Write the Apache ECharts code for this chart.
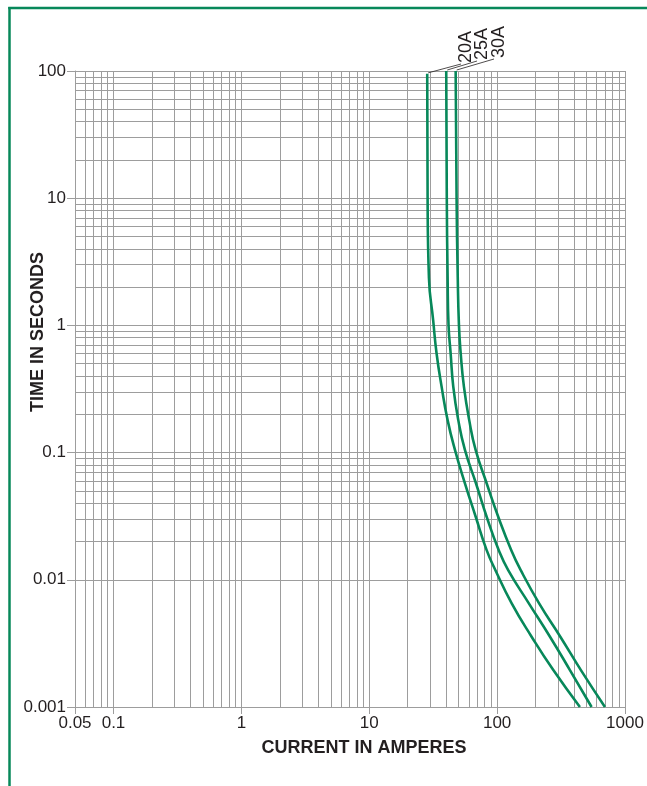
<!DOCTYPE html>
<html>
<head>
<meta charset="utf-8">
<script src="https://cdn.jsdelivr.net/npm/echarts@6/dist/echarts.min.js"></script>
<style>
html,body{margin:0;padding:0;background:#fff;}
#c{width:647px;height:786px;}
</style>
</head>
<body>
<div id="c"></div>
<script>
// ---- data ----
const seriesNames = ['20A', '25A', '30A'];
const amps20 = [28.4, 28.6, 29.3, 31.6, 33.6, 36.8, 41.0, 46.8, 56.0, 68.0, 82.8, 97, 130, 186, 275, 444];
const secs20 = [95, 10, 2.36, 1.10, 0.604, 0.330, 0.180, 0.105, 0.0574, 0.0313, 0.0171, 0.0119, 0.00653, 0.00357, 0.00195, 0.00100];
const amps25 = [40.0, 40.4, 41.0, 41.7, 43.3, 45.4, 49.7, 56.0, 68.3, 82.8, 103, 122, 177, 259, 371, 548];
const secs25 = [100, 10, 2.4, 1.0, 0.604, 0.330, 0.180, 0.105, 0.0574, 0.0313, 0.0171, 0.0119, 0.00653, 0.00357, 0.00195, 0.00100];
const amps30 = [47.4, 48.2, 49.2, 50.3, 51.9, 55.0, 60.5, 67.9, 82.8, 102, 129, 153, 213, 312, 452, 697];
const secs30 = [100, 10, 2.4, 1.0, 0.604, 0.330, 0.180, 0.105, 0.0574, 0.0313, 0.0171, 0.0119, 0.00653, 0.00357, 0.00195, 0.00100];

// ---- axes / tick labels ----
const xTitle = 'CURRENT IN AMPERES';
const yTitle = 'TIME IN SECONDS';
const xTickLabels = ['0.05', '0.1', '1', '10', '100', '1000'];
const yTickLabels = ['0.001', '0.01', '0.1', '1', '10', '100'];
const xMin = 0.05, xMax = 1000, yMin = 0.001, yMax = 100;
const gridMultipliers = [1, 2, 3, 4, 5, 6, 7, 8, 9];
const xDecades = [0.01, 0.1, 1, 10, 100, 1000];
const yDecades = [0.001, 0.01, 0.1, 1, 10, 100];

const GREEN = '#07885a';
const GRID = '#9d9d9d';
const TEXT = '#231f20';
const FONT = "'Liberation Sans', Arial, Helvetica, sans-serif";

function gridValues(decades, lo, hi) {
  const out = [];
  decades.forEach(d => gridMultipliers.forEach(m => {
    const v = +(d * m).toPrecision(6);
    if (v >= lo - 1e-12 && v <= hi + 1e-12 && out.indexOf(v) < 0) out.push(v);
  }));
  return out;
}
const xGrid = gridValues(xDecades, xMin, xMax);
const yGrid = gridValues(yDecades, yMin, yMax);

function zip(a, b) { return a.map((v, i) => [v, b[i]]); }
const curves = [zip(amps20, secs20), zip(amps25, secs25), zip(amps30, secs30)];

function fmt(v) { return String(+(+v).toPrecision(6)); }

const chart = echarts.init(document.getElementById('c'), null, { renderer: 'canvas' });

const gridLines = xGrid.map(v => ({ xAxis: v })).concat(yGrid.map(v => ({ yAxis: v })));

const option = {
  animation: false,
  backgroundColor: '#fff',
  grid: { left: 75, right: 22, top: 71, bottom: 79, containLabel: false, outerBoundsMode: 'none' },
  xAxis: {
    type: 'log', logBase: 10, min: xMin, max: xMax,
    axisLine: { show: true, lineStyle: { color: GRID, width: 1 } },
    axisTick: { show: true, length: 7, lineStyle: { color: GRID } },
    axisLabel: { fontFamily: FONT, fontSize: 17, color: TEXT, margin: 8, hideOverlap: false,
      formatter: v => { const s = fmt(v); return xTickLabels.indexOf(s) >= 0 ? s : ''; } },
    splitLine: { show: false }
  },
  yAxis: {
    type: 'log', logBase: 10, min: yMin, max: yMax,
    axisLine: { show: true, lineStyle: { color: GRID, width: 1 } },
    axisTick: { show: true, length: 8, lineStyle: { color: GRID } },
    axisLabel: { fontFamily: FONT, fontSize: 17, color: TEXT, margin: 9,
      formatter: v => { const s = fmt(v); return yTickLabels.indexOf(s) >= 0 ? s : ''; } },
    splitLine: { show: false }
  },
  series: [
    {
      type: 'line', name: 'grid', data: [[1, 1]], symbol: 'none', silent: true,
      lineStyle: { opacity: 0 }, z: 1,
      markLine: {
        z: 1, silent: true, symbol: ['none', 'none'], animation: false,
        label: { show: false },
        lineStyle: { color: GRID, width: 1, type: 'solid' },
        emphasis: { disabled: true },
        data: gridLines
      }
    }
  ].concat(curves.map((d, i) => ({
    type: 'line', name: seriesNames[i], data: d, symbol: 'none', showSymbol: false,
    smooth: 0.5, z: 3,
    lineStyle: { color: GREEN, width: 2.6 }
  })))
};
chart.setOption(option);

// frame, axis titles, annotation labels with leader lines
const labelText = [[466, 63], [482, 60], [499, 58]];
const leaderEnds = [[461, 64], [477, 61], [494, 59]];
const graphics = [
  { type: 'line', shape: { x1: 9.5, y1: 7, x2: 9.5, y2: 786 }, style: { stroke: GREEN, lineWidth: 2.5 }, z: 10 },
  { type: 'line', shape: { x1: 8.25, y1: 8, x2: 647, y2: 8 }, style: { stroke: GREEN, lineWidth: 2.5 }, z: 10 },
  { type: 'text', x: 364, y: 748, style: { text: xTitle, align: 'center', verticalAlign: 'middle',
      font: 'bold 18px ' + FONT, fill: TEXT }, z: 10 },
  { type: 'text', x: 38, y: 332, rotation: Math.PI / 2, style: { text: yTitle, align: 'center', verticalAlign: 'middle',
      font: 'bold 18px ' + FONT, fill: TEXT }, z: 10 }
];
curves.forEach((d, i) => {
  const p = chart.convertToPixel({ seriesIndex: i + 1 }, d[0]);
  const a = leaderEnds[i], t = labelText[i];
  graphics.push({ type: 'line', shape: { x1: p[0] + 1, y1: p[1] - 1, x2: a[0], y2: a[1] },
    style: { stroke: TEXT, lineWidth: 0.8 }, z: 10 });
  graphics.push({ type: 'text', x: t[0], y: t[1], rotation: Math.PI / 2,
    style: { text: seriesNames[i], align: 'left', verticalAlign: 'middle',
      font: '18px ' + FONT, fill: TEXT }, z: 10 });
});
chart.setOption({ graphic: graphics });
</script>
</body>
</html>
